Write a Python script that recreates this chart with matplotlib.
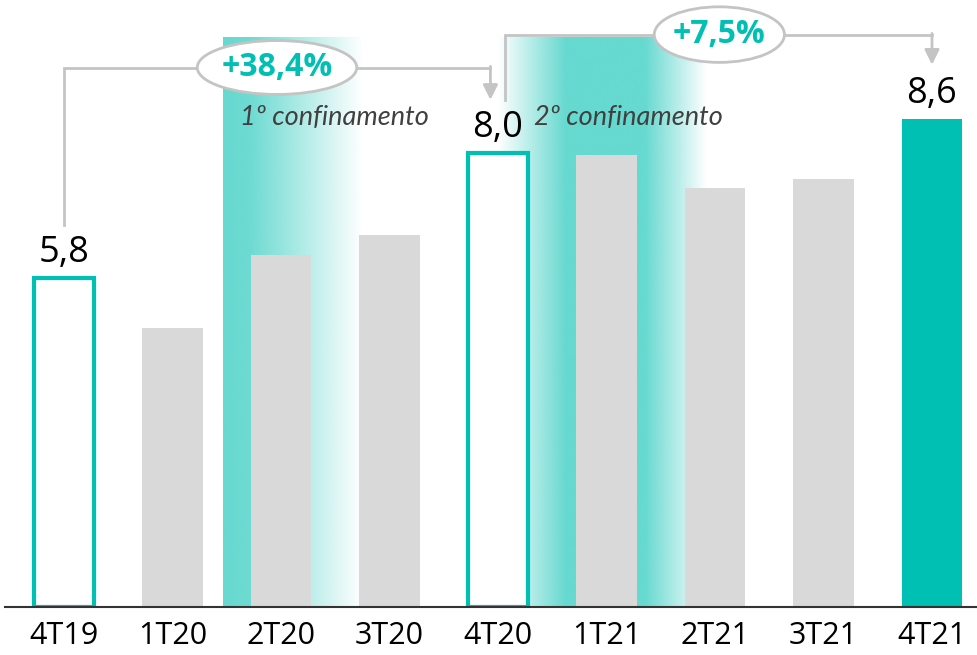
import numpy as np
import matplotlib
matplotlib.use('Agg')
import matplotlib.pyplot as plt
from matplotlib.patches import Ellipse
from matplotlib.colors import to_rgb

# data
quarters = ['4T19', '1T20', '2T20', '3T20', '4T20', '1T21', '2T21', '3T21', '4T21']
values = [5.8, 4.92, 6.21, 6.56, 8.0, 7.97, 7.39, 7.55, 8.6]
labelled = {0: '5,8', 4: '8,0', 8: '8,6'}
growth_labels = ['+38,4%', '+7,5%']
lockdown_labels = ['1º confinamento', '2º confinamento']

TEAL = '#00bfb3'
BAND = '#66d9d0'
GRAY = '#d9d9d9'
LINE = '#c4c4c4'

fig = plt.figure(figsize=(9.78, 6.55), dpi=100)
ax = fig.add_axes([5 / 978, 48 / 655, 973 / 978, 607 / 655])

x = np.arange(len(quarters))

# gradient bands for the lockdowns
def band(x0, x1, stops, alphas, top):
    xs = np.linspace(x0, x1, 400)
    a = np.interp(xs, stops, alphas)
    img = np.zeros((1, len(xs), 4))
    img[..., :3] = to_rgb(BAND)
    img[..., 3] = a
    ax.imshow(img, extent=[x0, x1, 0, top], aspect='auto', zorder=0,
              interpolation='bilinear')

band(1.465, 2.75, [1.465, 1.72, 2.75], [1.0, 0.95, 0.0], 10.04)
band(4.0, 5.92, [4.0, 4.62, 5.35, 5.92], [0.0, 1.0, 1.0, 0.0], 10.04)

# bars
for i, v in enumerate(values):
    if i in (0, 4):
        ax.bar(i, v, width=0.56, color='white', edgecolor=TEAL, linewidth=3, zorder=2)
    elif i == 8:
        ax.bar(i, v, width=0.56, color=TEAL, zorder=2)
    else:
        ax.bar(i, v, width=0.56, color=GRAY, zorder=2)

for i, txt in labelled.items():
    ax.annotate(txt, (i, values[i]), xytext=(0, 5), textcoords='offset points',
                ha='center', va='bottom', fontsize=26, family='Open Sans', zorder=5)

# lockdown captions
ax.text(1.62, 8.63, lockdown_labels[0], fontsize=19.5, style='italic', color='#404040',
        family=['Lato', 'Open Sans'], va='center', ha='left', zorder=4)
ax.text(4.33, 8.63, lockdown_labels[1], fontsize=19.5, style='italic', color='#404040',
        family=['Lato', 'Open Sans'], va='center', ha='left', zorder=4)

# growth brackets
def bracket(xa, ya, xb, yb, yh, ex, ew, eh, txt):
    ax.plot([xa, xa, xb, xb], [ya, yh, yh, yh], color=LINE, lw=2, zorder=3,
            solid_joinstyle='miter')
    ax.annotate('', xy=(xb, yb), xytext=(xb, yh + 0.02),
                arrowprops=dict(arrowstyle='-|>', color=LINE, lw=2,
                                mutation_scale=22, shrinkA=0, shrinkB=0), zorder=3)
    ax.add_patch(Ellipse((ex, yh), ew, eh, facecolor='white', edgecolor=LINE,
                         lw=2, zorder=4))
    ax.text(ex, yh, txt, ha='center', va='center', fontsize=23, fontweight='bold',
            color=TEAL, family='Open Sans', zorder=5)

bracket(0, 6.74, 3.93, 8.94, 9.51, 1.963, 1.47, 0.95, growth_labels[0])
bracket(4.06, 8.94, 8.0, 9.56, 10.09, 6.04, 1.2, 0.98, growth_labels[1])

ax.set_xlim(-0.544, 8.424)
ax.set_ylim(0, 10.7)
ax.set_xticks(x)
ax.set_xticklabels(quarters, fontsize=22, family=['Liberation Sans Narrow', 'Open Sans'])
ax.tick_params(axis='x', length=0, pad=10)
ax.set_yticks([])
for s in ['top', 'right', 'left']:
    ax.spines[s].set_visible(False)
ax.spines['bottom'].set_color('#333333')
ax.spines['bottom'].set_linewidth(1.5)
ax.spines['bottom'].set_zorder(6)

fig.savefig('out.png', dpi=100)
